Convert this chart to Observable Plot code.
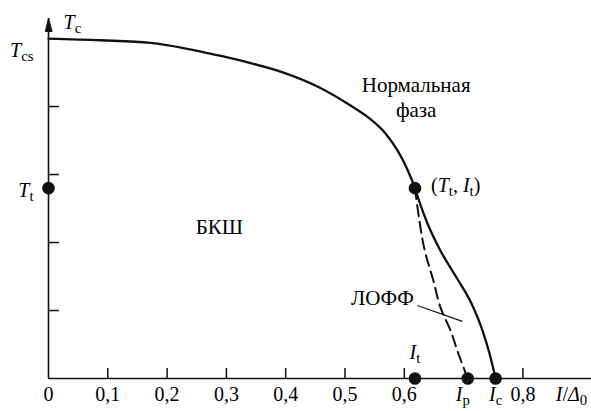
<!DOCTYPE html>
<html>
<head>
<meta charset="utf-8">
<script src="https://cdn.jsdelivr.net/npm/d3@7"></script>
<script src="https://cdn.jsdelivr.net/npm/@observablehq/plot@0.6"></script>
<style>body { margin: 0; background: #fff; }</style>
</head>
<body>
<div id="chart"></div>
<script>
// Phase diagram T(I): BCS, LOFF and normal phases.
// Current I in units of Δ0, temperature T in units of Tcs.

// BCS → normal boundary, running through the tricritical point down to Ic
const boundaryI = [0, 0.0877, 0.172, 0.2277, 0.285, 0.3406, 0.3963, 0.4536, 0.5093, 0.5413, 0.5683, 0.5885, 0.6037, 0.618, 0.6248, 0.6391, 0.661, 0.688, 0.7133, 0.7319, 0.7437, 0.754];
const boundaryT = [1.0, 0.995, 0.987, 0.972, 0.951, 0.928, 0.9, 0.859, 0.803, 0.765, 0.721, 0.671, 0.621, 0.56, 0.5235, 0.456, 0.376, 0.297, 0.2206, 0.141, 0.0735, 0];

// BCS → LOFF boundary (dashed), from the tricritical point down to Ip
const loffI = [0.618, 0.625, 0.634, 0.649, 0.661, 0.678, 0.691, 0.707];
const loffT = [0.56, 0.47, 0.38, 0.288, 0.209, 0.141, 0.074, 0];

// Characteristic values
const Tcs = 1.0;
const Tt = 0.56;
const It = 0.618;
const Ip = 0.707;
const Ic = 0.754;
const Ttop = 1.059;   // end of the temperature axis
const Imax = 0.9157;  // end of the current axis

// Axis ticks and labels
const xTicks = [0.1, 0.2, 0.3, 0.4, 0.5, 0.6, 0.8];
const xTickLabels = [0, 0.1, 0.2, 0.3, 0.4, 0.5, 0.6, 0.8];
const yTicks = [0.2, 0.4, 0.6, 0.8];

// Region names ($ = italic next letter, _ = subscript in symbol labels)
const regionNames = ["Нормальная\nфаза", "БКШ", "ЛОФФ"];
const regionI = [0.62, 0.288, 0.563];
const regionT = [0.829, 0.444, 0.235];
const loffLeaderI = [0.622, 0.698];
const loffLeaderT = [0.215, 0.168];

const toPoints = (xs, ys) => xs.map((x, i) => ({x, y: ys[i]}));
const boundary = toPoints(boundaryI, boundaryT);
const loff = toPoints(loffI, loffT);
const regions = regionNames.map((name, i) => ({name, x: regionI[i], y: regionT[i]}));
const markers = [
  {x: 0, y: Tt},
  {x: It, y: Tt},
  {x: It, y: 0},
  {x: Ip, y: 0},
  {x: Ic, y: 0}
];
const commaFormat = d => d === 0 ? "0" : String(d).replace(".", ",");

// Narrow filled arrowhead for the temperature axis
const arrowHead = {
  draw(context, l) {
    context.moveTo(0, -l);
    context.lineTo(-3.2, 0);
    context.lineTo(3.2, 0);
    context.closePath();
  }
};

const FAMILY = "serif";
const labelFont = {fontFamily: FAMILY, fontSize: 20};
const regionFont = {fontFamily: FAMILY, fontSize: 21};

const chart = Plot.plot({
  width: 591,
  height: 411,
  marginLeft: 48,
  marginRight: 0,
  marginTop: 18,
  marginBottom: 33,
  x: {domain: [0, Imax], axis: null},
  y: {domain: [0, Ttop], axis: null},
  style: "font-family: serif;",
  marks: [
    // axes
    Plot.ruleY([0], {strokeWidth: 1.6, stroke: "#111"}),
    Plot.ruleX([0], {y1: 0, y2: Ttop, strokeWidth: 1.6, stroke: "#111"}),
    Plot.vector([Ttop], {x: 0, y: d => d, length: 13, anchor: "end", shape: arrowHead, fill: "#111", stroke: "#111", strokeWidth: 1}),
    Plot.axisX({ticks: xTicks, tickSize: -10, tickFormat: () => "", label: null, strokeWidth: 1.5, stroke: "#111"}),
    Plot.axisY({ticks: yTicks, tickSize: -11, tickFormat: () => "", label: null, strokeWidth: 1.5, stroke: "#111"}),
    Plot.text(xTickLabels, {x: d => d, y: 0, text: commaFormat, dy: 16, ...labelFont}),
    Plot.text([Ip], {x: d => d, y: 0, text: () => "$I_p", dy: 16, dx: -5, ...labelFont}),
    Plot.text([Ic], {x: d => d, y: 0, text: () => "$I_c", dy: 16, ...labelFont}),
    Plot.text([Imax], {x: d => d, y: 0, text: () => "$I/$Δ_0", dy: 16, dx: -20, ...labelFont}),
    // axis symbols
    Plot.text([Ttop], {x: 0, y: d => d, text: () => "$T_c", textAnchor: "start", dx: 15, dy: 4, ...labelFont}),
    Plot.text([Tcs], {x: 0, y: d => d, text: () => "$T_cs", textAnchor: "end", dx: -15, dy: 12, ...labelFont}),
    Plot.text([Tt], {x: 0, y: d => d, text: () => "$T_t", textAnchor: "end", dx: -15, dy: 2, ...labelFont}),
    Plot.text([It], {x: d => d, y: 0, text: () => "$I_t", dy: -26, ...labelFont}),
    Plot.text([{x: It, y: Tt}], {x: "x", y: "y", text: () => "($T_t, $I_t)", textAnchor: "start", dx: 16, dy: -3, ...labelFont}),
    // phase boundaries
    Plot.line(loff, {x: "x", y: "y", curve: "catmull-rom", strokeWidth: 2, strokeDasharray: "11,6", stroke: "#111"}),
    Plot.line(boundary, {x: "x", y: "y", curve: "monotone-x", strokeWidth: 2.3, stroke: "#111"}),
    // region names
    Plot.text(regions.slice(0, 1), {x: "x", y: "y", text: "name", lineHeight: 1.2, letterSpacing: 1.8, ...regionFont}),
    Plot.text(regions.slice(1), {x: "x", y: "y", text: "name", ...regionFont}),
    Plot.link([0], {x1: () => loffLeaderI[0], y1: () => loffLeaderT[0], x2: () => loffLeaderI[1], y2: () => loffLeaderT[1], strokeWidth: 1.1, stroke: "#111"}),
    // special points
    Plot.dot(markers, {x: "x", y: "y", r: 6.3, fill: "#111", stroke: "none"})
  ]
});

// "$X" → italic letter, "_abc" → subscript
function richLabels(svg) {
  const ns = "http://www.w3.org/2000/svg";
  const shift = 4;
  svg.querySelectorAll("text").forEach(t => {
    if (t.children.length) return;
    const s = t.textContent;
    if (!/[$_]/.test(s)) return;
    t.textContent = "";
    let i = 0, lowered = false;
    const add = (str, attrs) => {
      const ts = document.createElementNS(ns, "tspan");
      for (const k in attrs) ts.setAttribute(k, attrs[k]);
      ts.textContent = str;
      t.appendChild(ts);
    };
    while (i < s.length) {
      const c = s[i];
      if (c === "_") {
        let j = i + 1;
        while (j < s.length && /[a-z0-9]/.test(s[j])) j++;
        add(s.slice(i + 1, j), {"font-size": "0.74em", dy: shift});
        lowered = true;
        i = j;
      } else {
        const attrs = lowered ? {dy: -shift} : {};
        lowered = false;
        if (c === "$") {
          attrs["font-style"] = "italic";
          add(s[i + 1], attrs);
          i += 2;
        } else {
          let j = i;
          while (j < s.length && s[j] !== "$" && s[j] !== "_") j++;
          add(s.slice(i, j), attrs);
          i = j;
        }
      }
    }
  });
}
richLabels(chart);

document.getElementById("chart").appendChild(chart);
</script>
</body>
</html>
